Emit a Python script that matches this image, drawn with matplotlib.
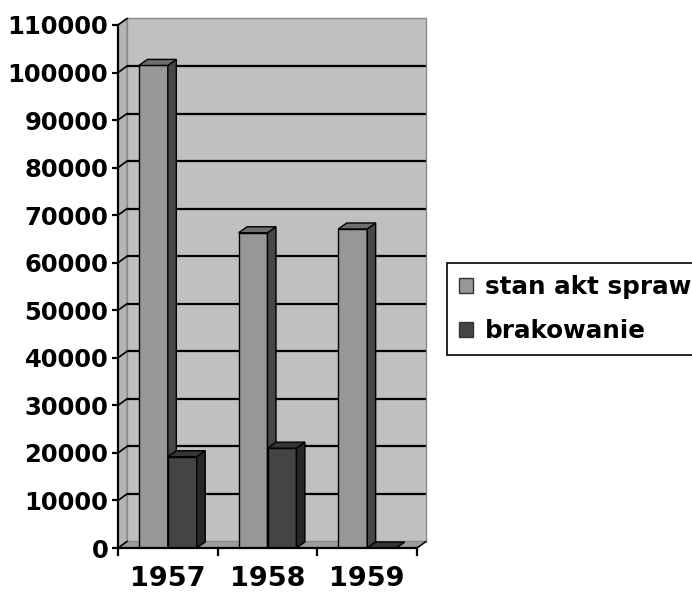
import matplotlib
matplotlib.use("Agg")
import matplotlib.pyplot as plt
from matplotlib.patches import Polygon, Patch

# ---- data ----
years = ["1957", "1958", "1959"]
stan_akt_spraw = [101500, 66300, 67100]
brakowanie = [19200, 21000, 0]
series_names = ["stan akt spraw", "brakowanie"]
y_ticks = list(range(0, 110001, 10000))

# ---- styles ----
W, H, DPI = 692, 594, 100
FONT = "DejaVu Sans"
wall_col = "#c0c0c0"
side_wall_col = "#b4b4b4"
floor_col = "#9c9c9c"
stan_cols = ("#979797", "#474747", "#6e6e6e")   # front, side, top
brak_cols = ("#444444", "#262626", "#353535")

fig = plt.figure(figsize=(W / DPI, H / DPI), dpi=DPI)
fig.patch.set_facecolor("white")
ax_l, ax_r, ax_b, ax_t = 118, 417, 548, 25
ax = fig.add_axes([ax_l / W, (H - ax_b) / H, (ax_r - ax_l) / W, (ax_b - ax_t) / H])
ax.set_xlim(-0.5, 2.5)
ax.set_ylim(0, 110000)
ax.set_facecolor("none")
for s in ax.spines.values():
    s.set_visible(False)

xpp = 3.0 / (ax_r - ax_l)          # data x per pixel
ypp = 110000.0 / (ax_b - ax_t)     # data y per pixel
WDX, WDY = 9 * xpp, 6.5 * ypp      # wall depth offset
BDX, BDY = 8.5 * xpp, 6 * ypp      # bar depth offset
x0, x1, ytop = -0.5, 2.5, 110000

def poly(pts, fc, ec="none", lw=0, z=1):
    p = Polygon(pts, closed=True, facecolor=fc, edgecolor=ec, linewidth=lw,
                zorder=z, clip_on=False, joinstyle="miter")
    ax.add_patch(p)

# back wall
poly([(x0 + WDX, WDY), (x1 + WDX, WDY), (x1 + WDX, ytop + WDY), (x0 + WDX, ytop + WDY)],
     wall_col, "#8a8a8a", 1.0, 1)
# left side wall
poly([(x0, 0), (x0 + WDX, WDY), (x0 + WDX, ytop + WDY), (x0, ytop)],
     side_wall_col, "#8a8a8a", 1.0, 1)
# floor
poly([(x0, 0), (x1, 0), (x1 + WDX, WDY), (x0 + WDX, WDY)], floor_col, "#8a8a8a", 1.0, 1.5)

# gridlines on back wall and slanted tick lines on side wall
for v in y_ticks:
    if 0 < v < ytop:
        ax.plot([x0 + WDX, x1 + WDX], [v + WDY, v + WDY], color="black", lw=1.6,
                zorder=2, clip_on=False, solid_capstyle="butt")
    ax.plot([x0, x0 + WDX], [v, v + WDY], color="black", lw=1.2, zorder=2, clip_on=False)

# front axis lines
ax.plot([x0, x0], [0, ytop], color="black", lw=1.6, zorder=6, clip_on=False)
ax.plot([x0, x1], [0, 0], color="black", lw=1.6, zorder=6, clip_on=False)
ax.plot([x1, x1 + WDX], [0, WDY], color="black", lw=1.0, zorder=6, clip_on=False)
for xb in [-0.5, 0.5, 1.5, 2.5]:
    ax.plot([xb, xb], [0, -7 * ypp], color="black", lw=1.6, zorder=6, clip_on=False)

# bars
BW = 0.29
def bar3d(xl, val, cols):
    f, s, t = cols
    xr = xl + BW
    ax.bar(xl, val, width=BW, align="edge", color=f, edgecolor="black", linewidth=1.0, zorder=3)
    poly([(xr, 0), (xr + BDX, BDY), (xr + BDX, val + BDY), (xr, val)], s, "black", 1.0, 3)
    poly([(xl, val), (xr, val), (xr + BDX, val + BDY), (xl + BDX, val + BDY)], t, "black", 1.0, 3)

for i in range(len(years)):
    bar3d(i - 0.29, stan_akt_spraw[i], stan_cols)
    bar3d(i, brakowanie[i], brak_cols)

# ticks & labels
ax.set_yticks(y_ticks)
ax.set_yticklabels([str(v) for v in y_ticks], fontsize=17.5, fontweight="bold", family=FONT)
ax.tick_params(axis="y", length=4, width=1.6, pad=3, direction="out")
ax.set_xticks(range(len(years)))
ax.set_xticklabels(years, fontsize=19.5, fontweight="bold", family=FONT)
ax.tick_params(axis="x", length=0, pad=13)

# legend
handles = [Patch(facecolor=stan_cols[0], edgecolor="#333333", linewidth=1.0),
           Patch(facecolor=brak_cols[0], edgecolor="#333333", linewidth=1.0)]
leg = fig.legend(handles, series_names, loc="upper left",
                 bbox_to_anchor=(447 / W, 1 - 263 / H), borderaxespad=0,
                 prop={"family": FONT, "weight": "bold", "size": 17.7},
                 handlelength=0.55, handleheight=0.55, handletextpad=0.5,
                 borderpad=0.5, labelspacing=0.8, fancybox=False,
                 frameon=True, edgecolor="black", framealpha=1)
leg.get_frame().set_linewidth(1.2)

fig.savefig("out.png", dpi=DPI)
